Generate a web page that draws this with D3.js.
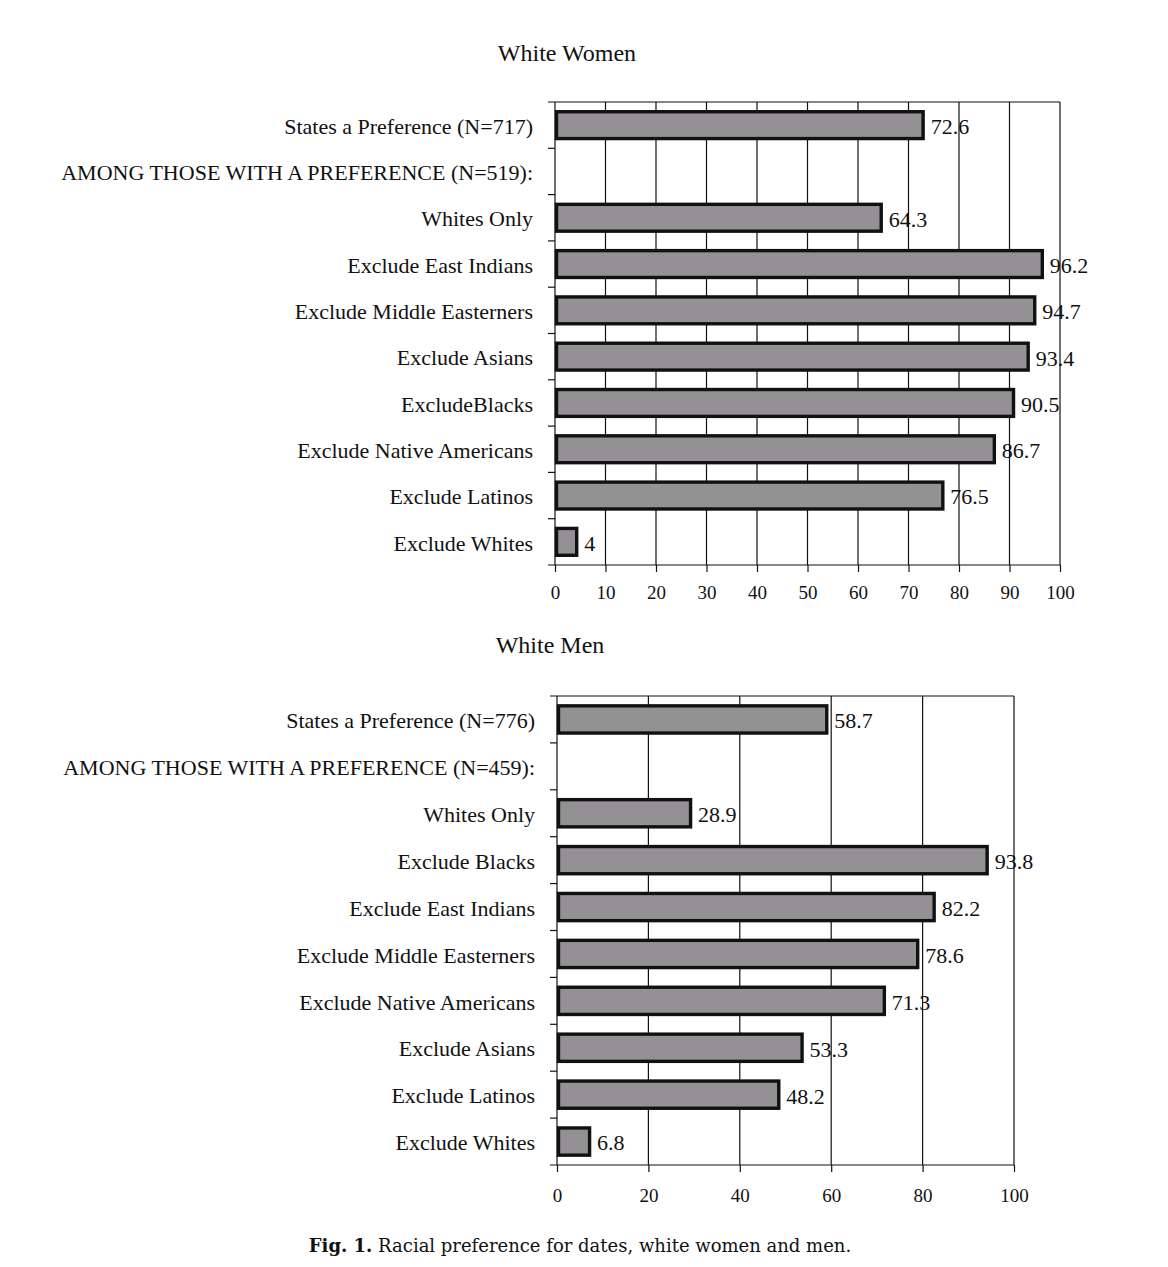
<!DOCTYPE html>
<html>
<head>
<meta charset="utf-8">
<script src="https://cdn.jsdelivr.net/npm/d3@7"></script>
<style>
  body { margin: 0; background: #fff; }
  text { font-family: "Liberation Serif", "Times New Roman", serif; fill: #111; }
</style>
</head>
<body>
<svg id="chart" width="1168" height="1267"></svg>
<script>
// 여성 데이터
var womenCats = ["States a Preference (N=717)", "AMONG THOSE WITH A PREFERENCE (N=519):", "Whites Only",
  "Exclude East Indians", "Exclude Middle Easterners", "Exclude Asians", "ExcludeBlacks",
  "Exclude Native Americans", "Exclude Latinos", "Exclude Whites"];
var womenVals = [72.6, null, 64.3, 96.2, 94.7, 93.4, 90.5, 86.7, 76.5, 4];
var womenTicks = [0, 10, 20, 30, 40, 50, 60, 70, 80, 90, 100];

// 남성 데이터
var menCats = ["States a Preference (N=776)", "AMONG THOSE WITH A PREFERENCE (N=459):", "Whites Only",
  "Exclude Blacks", "Exclude East Indians", "Exclude Middle Easterners", "Exclude Native Americans",
  "Exclude Asians", "Exclude Latinos", "Exclude Whites"];
var menVals = [58.7, null, 28.9, 93.8, 82.2, 78.6, 71.3, 53.3, 48.2, 6.8];
var menTicks = [0, 20, 40, 60, 80, 100];

var svg = d3.select("#chart");

var drawPanel = function(cfg){
  var x = d3.scaleLinear().domain([0, 100]).range([cfg.left, cfg.right]);
  var y = d3.scaleBand().domain(cfg.cats).range([cfg.top, cfg.bottom]).paddingInner(0.42).paddingOuter(0.21);
  var step = (cfg.bottom - cfg.top) / cfg.cats.length;
  var g = svg.append("g");

  // 제목
  g.append("text")
    .attr("x", cfg.titleX).attr("y", cfg.titleY)
    .attr("text-anchor", "middle")
    .style("font-size", "24px")
    .text(cfg.title);

  // 세로 격자선
  g.selectAll(".grid")
    .data(cfg.ticks.slice(1))
    .enter().append("line")
    .attr("x1", function(d){ return x(d); }).attr("x2", function(d){ return x(d); })
    .attr("y1", cfg.top).attr("y2", cfg.bottom)
    .attr("stroke", "#111").attr("stroke-width", 1.2);

  // 위쪽 테두리
  g.append("line")
    .attr("x1", cfg.left - 7).attr("x2", cfg.right)
    .attr("y1", cfg.top).attr("y2", cfg.top)
    .attr("stroke", "#111").attr("stroke-width", 1.2);

  // x축
  var xAxis = g.append("g")
    .attr("transform", "translate(0," + cfg.bottom + ")")
    .call(d3.axisBottom(x).tickValues(cfg.ticks).tickSize(7).tickPadding(cfg.pad).tickSizeOuter(0));
  xAxis.select(".domain").remove();
  xAxis.append("line").attr("x1", cfg.left - 7).attr("x2", cfg.right)
    .attr("stroke", "#111").attr("stroke-width", 1.2);
  xAxis.selectAll(".tick line").attr("stroke", "#111").attr("stroke-width", 1.2);
  xAxis.selectAll(".tick text")
    .style("font-family", "'Liberation Serif', serif")
    .style("font-size", "19px").attr("fill", "#111");

  // y축
  g.append("line")
    .attr("x1", cfg.left).attr("x2", cfg.left)
    .attr("y1", cfg.top).attr("y2", cfg.bottom)
    .attr("stroke", "#111").attr("stroke-width", 1.2);
  g.selectAll(".ytick")
    .data(d3.range(1, cfg.cats.length))
    .enter().append("line")
    .attr("x1", cfg.left - 7).attr("x2", cfg.left)
    .attr("y1", function(i){ return cfg.top + i * step; })
    .attr("y2", function(i){ return cfg.top + i * step; })
    .attr("stroke", "#111").attr("stroke-width", 1.2);

  // 범주 이름
  g.selectAll(".cat")
    .data(cfg.cats)
    .enter().append("text")
    .attr("x", cfg.left - 22)
    .attr("y", function(d){ return y(d) + y.bandwidth() / 2 + 1; })
    .attr("dy", "0.35em")
    .attr("text-anchor", "end")
    .style("font-size", "22px")
    .text(function(d){ return d; });

  // 막대
  var data = cfg.cats.map(function(c, i){ return {cat: c, v: cfg.vals[i]}; })
    .filter(function(d){ return d.v != null; });

  g.selectAll(".bar")
    .data(data)
    .enter().append("rect")
    .attr("x", x(0) + 1.5)
    .attr("y", function(d){ return y(d.cat); })
    .attr("width", function(d){ return x(d.v) - x(0); })
    .attr("height", y.bandwidth())
    .attr("fill", "#939193")
    .attr("stroke", "#111")
    .attr("stroke-width", 3.4);

  // 값 라벨
  g.selectAll(".val")
    .data(data)
    .enter().append("text")
    .attr("x", function(d){ return x(d.v) + 9; })
    .attr("y", function(d){ return y(d.cat) + y.bandwidth() / 2 + 1; })
    .attr("dy", "0.36em")
    .style("font-size", "22px")
    .text(function(d){ return d.v; });
};

drawPanel({title: "White Women", titleX: 567, titleY: 61, cats: womenCats, vals: womenVals, ticks: womenTicks,
  left: 555, right: 1060, top: 102, bottom: 565, pad: 14});
drawPanel({title: "White Men", titleX: 550, titleY: 653, cats: menCats, vals: menVals, ticks: menTicks,
  left: 557, right: 1014, top: 696, bottom: 1165, pad: 17});

// 그림 설명
var cap = svg.append("text")
  .attr("x", 580).attr("y", 1252)
  .attr("text-anchor", "middle")
  .style("font-family", "'DejaVu Serif', serif")
  .style("font-size", "18px");
cap.append("tspan").style("font-weight", "bold").style("font-family", "'DejaVu Serif', serif").text("Fig. 1.");
cap.append("tspan").text("  Racial preference for dates, white women and men.");
</script>
</body>
</html>
